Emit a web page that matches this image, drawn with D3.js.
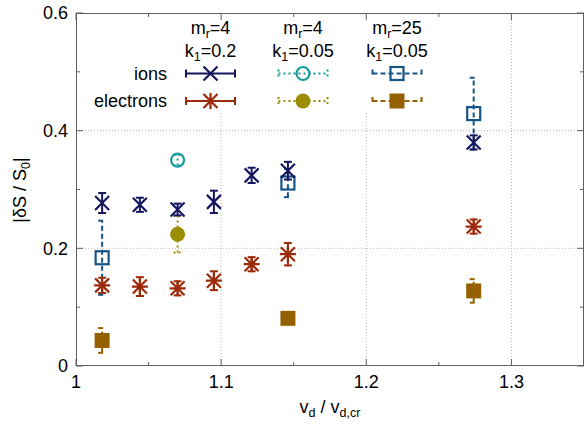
<!DOCTYPE html>
<html><head><meta charset="utf-8">
<script src="https://cdn.jsdelivr.net/npm/d3@7"></script>
<style>body{margin:0;background:#fff}svg{display:block}text{font-family:"Liberation Sans",Arial,sans-serif;fill:#000}</style>
</head><body><svg id="c" width="585" height="424"></svg>
<script>
// ---- data ----
const xK02 = [1.018, 1.044, 1.07, 1.095, 1.121, 1.146, 1.274];
const ionsK02 = [0.277, 0.274, 0.266, 0.279, 0.324, 0.332, 0.380];
const ionsK02Err = [0.017, 0.012, 0.010, 0.019, 0.013, 0.015, 0.012];
const elecK02 = [0.137, 0.135, 0.132, 0.145, 0.173, 0.190, 0.237];
const elecK02Err = [0.013, 0.016, 0.012, 0.016, 0.012, 0.019, 0.012];
const xM4K005 = [1.07];
const ionsM4K005 = [0.350];
const ionsM4K005Err = [0.009];
const elecM4K005 = [0.224];
const elecM4K005Err = [0.031];
const xM25 = [1.018, 1.146, 1.274];
const ionsM25 = [0.184, 0.311, 0.429];
const ionsM25Err = [0.063, 0.024, 0.061];
const elecM25 = [0.0434, 0.081, 0.1276];
const elecM25Err = [0.021, 0.008, 0.020];
const xTicks = [1, 1.1, 1.2, 1.3];
const xMinor = [1.05, 1.15, 1.25];
const yTicks = [0, 0.2, 0.4, 0.6];
const yMinor = [0.1, 0.3, 0.5];
const colTitles = [["4","0.2"],["4","0.05"],["25","0.05"]];
const rowLabels = ["ions","electrons"];

const svg = d3.select("#c");
const L=76, R=584, T=13, B=366;
const FS=18, SFS=12.5;
const x = d3.scaleLinear().domain([1,1.35]).range([L,R]);
const y = d3.scaleLinear().domain([0,0.6]).range([B,T]);

const C = {ion:"#16165f", ele:"#9c2a0a", teal:"#169c9c", olive:"#9b8c00", blue:"#175585", brown:"#956100"};

// grid
const grid = svg.append("g").attr("stroke","#b8b8b8").attr("stroke-width",1).attr("stroke-dasharray","1,2");
xTicks.filter(v=>v>1).forEach(v=>grid.append("line").attr("x1",x(v)).attr("x2",x(v)).attr("y1",B).attr("y2",T));
yTicks.filter(v=>v>0 && v<0.6).forEach(v=>grid.append("line").attr("x1",L).attr("x2",R).attr("y1",y(v)).attr("y2",y(v)));

// legend background (opaque)
svg.append("rect").attr("x",84).attr("y",T+1).attr("width",372).attr("height",97).attr("fill","#fff");

function marker(g, type, cx, cy, color){
  const s=7;
  if(type==="x"){
    g.append("path").attr("d",`M${cx-s},${cy-s}L${cx+s},${cy+s}M${cx-s},${cy+s}L${cx+s},${cy-s}`).attr("stroke",color).attr("stroke-width",2.2).attr("fill","none");
  } else if(type==="ast"){
    g.append("path").attr("d",`M${cx-s},${cy-s}L${cx+s},${cy+s}M${cx-s},${cy+s}L${cx+s},${cy-s}M${cx-s-1},${cy}L${cx+s+1},${cy}M${cx},${cy-s-1}L${cx},${cy+s+1}`).attr("stroke",color).attr("stroke-width",2.2).attr("fill","none");
  } else if(type==="co"){
    g.append("circle").attr("cx",cx).attr("cy",cy).attr("r",6.5).attr("stroke",color).attr("stroke-width",2.2).attr("fill","none");
  } else if(type==="cf"){
    g.append("circle").attr("cx",cx).attr("cy",cy).attr("r",7.5).attr("fill",color);
  } else if(type==="so"){
    g.append("rect").attr("x",cx-6.5).attr("y",cy-6.5).attr("width",13).attr("height",13).attr("stroke",color).attr("stroke-width",2.2).attr("fill","none");
  } else if(type==="sf"){
    g.append("rect").attr("x",cx-7.5).attr("y",cy-7.5).attr("width",15).attr("height",15).attr("fill",color);
  }
}

function series(xs, vs, es, type, color, dash){
  const g = svg.append("g");
  xs.forEach((xv,i)=>{
    const px=x(xv), lo=y(vs[i]-es[i]), hi=y(vs[i]+es[i]);
    const eb = g.append("g").attr("stroke",color).attr("stroke-width",2).attr("fill","none");
    if(dash) eb.attr("stroke-dasharray",dash);
    eb.append("line").attr("x1",px).attr("x2",px).attr("y1",lo).attr("y2",hi);
    eb.append("line").attr("x1",px-4).attr("x2",px+4).attr("y1",lo).attr("y2",lo);
    eb.append("line").attr("x1",px-4).attr("x2",px+4).attr("y1",hi).attr("y2",hi);
    marker(g, type, px, y(vs[i]), color);
  });
}

series(xM25, ionsM25, ionsM25Err, "so", C.blue, "5,3");
series(xM25, elecM25, elecM25Err, "sf", C.brown, "5,3");
series(xM4K005, ionsM4K005, ionsM4K005Err, "co", C.teal, "2,3");
series(xM4K005, elecM4K005, elecM4K005Err, "cf", C.olive, "2,3");
series(xK02, ionsK02, ionsK02Err, "x", C.ion, null);
series(xK02, elecK02, elecK02Err, "ast", C.ele, null);

// legend
const lg = svg.append("g");
const colX = [210.5, 303, 397];
const rowY = [73.5, 101];
const styles = [[["x",C.ion],["ast",C.ele],null],[["co",C.teal],["cf",C.olive],"2,3"],[["so",C.blue],["sf",C.brown],"5,3"]];
colTitles.forEach((t,i)=>{
  const t1 = lg.append("text").attr("x",colX[i]).attr("y",34).attr("text-anchor","middle").attr("font-size",FS);
  t1.append("tspan").text("m");
  t1.append("tspan").attr("font-size",SFS).attr("dy",3.5).text("r");
  t1.append("tspan").attr("dy",-3.5).text("="+t[0]);
  const t2 = lg.append("text").attr("x",colX[i]).attr("y",57).attr("text-anchor","middle").attr("font-size",FS);
  t2.append("tspan").text("k");
  t2.append("tspan").attr("font-size",SFS).attr("dy",3.5).text("1");
  t2.append("tspan").attr("dy",-3.5).text("="+t[1]);
});
rowLabels.forEach((r,j)=>{
  lg.append("text").attr("x",167).attr("y",rowY[j]).attr("dy","0.35em").attr("text-anchor","end").attr("font-size",FS).text(r);
  styles.forEach((st,i)=>{
    const [type,color]=st[j]; const dash=st[2];
    const x0=colX[i]-24.5, x1=colX[i]+24.5, yy=rowY[j];
    const eb = lg.append("g").attr("stroke",color).attr("stroke-width",2).attr("fill","none");
    if(dash) eb.attr("stroke-dasharray",dash);
    eb.append("line").attr("x1",x0).attr("x2",x1).attr("y1",yy).attr("y2",yy);
    eb.append("line").attr("x1",x0).attr("x2",x0).attr("y1",yy-4).attr("y2",yy+4);
    eb.append("line").attr("x1",x1).attr("x2",x1).attr("y1",yy-4).attr("y2",yy+4);
    marker(lg, type, colX[i], yy, color);
  });
});

// border and ticks
const ax = svg.append("g").attr("stroke","#606060").attr("stroke-width",1).attr("fill","none");
ax.append("rect").attr("x",L+0.5).attr("y",T+0.5).attr("width",R-L-1).attr("height",B-T-1);
xTicks.forEach(v=>{ax.append("line").attr("x1",x(v)).attr("x2",x(v)).attr("y1",B).attr("y2",B-7);
  ax.append("line").attr("x1",x(v)).attr("x2",x(v)).attr("y1",T).attr("y2",T+7);});
xMinor.forEach(v=>{ax.append("line").attr("x1",x(v)).attr("x2",x(v)).attr("y1",B).attr("y2",B-4);
  ax.append("line").attr("x1",x(v)).attr("x2",x(v)).attr("y1",T).attr("y2",T+4);});
yTicks.forEach(v=>{ax.append("line").attr("x1",L).attr("x2",L+7).attr("y1",y(v)).attr("y2",y(v));
  ax.append("line").attr("x1",R).attr("x2",R-7).attr("y1",y(v)).attr("y2",y(v));});
yMinor.forEach(v=>{ax.append("line").attr("x1",L).attr("x2",L+4).attr("y1",y(v)).attr("y2",y(v));
  ax.append("line").attr("x1",R).attr("x2",R-4).attr("y1",y(v)).attr("y2",y(v));});

// tick labels
xTicks.forEach(v=>svg.append("text").attr("x",x(v)).attr("y",388).attr("text-anchor","middle").attr("font-size",FS).text(String(v)));
yTicks.forEach(v=>svg.append("text").attr("x",68).attr("y",y(v)).attr("dy","0.35em").attr("text-anchor","end").attr("font-size",FS).text(String(v)));

// axis labels
const xl = svg.append("text").attr("x",330).attr("y",413).attr("text-anchor","middle").attr("font-size",FS);
xl.append("tspan").text("v");
xl.append("tspan").attr("font-size",SFS).attr("dy",4).text("d");
xl.append("tspan").attr("dy",-4).text(" / v");
xl.append("tspan").attr("font-size",SFS).attr("dy",4).text("d,cr");
const yl = svg.append("text").attr("transform","translate(26,190) rotate(-90)").attr("text-anchor","middle").attr("font-size",FS);
yl.append("tspan").text("|δS / S");
yl.append("tspan").attr("font-size",SFS).attr("dy",4).text("0");
yl.append("tspan").attr("dy",-4).text("|");
</script></body></html>
